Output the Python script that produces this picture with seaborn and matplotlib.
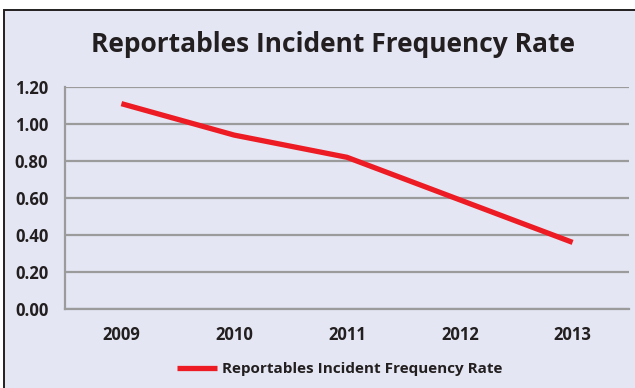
import matplotlib
matplotlib.use("Agg")
import matplotlib.pyplot as plt
from matplotlib.patches import Rectangle
from matplotlib.ticker import FixedLocator
import seaborn as sns
import pandas as pd

years = ["2009", "2010", "2011", "2012", "2013"]
rates = [1.11, 0.94, 0.82, 0.59, 0.36]
y_ticks = [0.0, 0.2, 0.4, 0.6, 0.8, 1.0, 1.2]
series_name = "Reportables Incident Frequency Rate"
title = "Reportables Incident Frequency Rate"

panel_bg = "#E4E7F3"
grid_gray = "#9B9B9B"
line_red = "#ED1C24"
text_dark = "#231F20"

sns.set_theme(style="white")
plt.rcParams["font.family"] = ["Open Sans", "DejaVu Sans"]

W, H, DPI = 635, 388, 100
fig = plt.figure(figsize=(W / DPI, H / DPI), dpi=DPI, facecolor="white")

# framed panel behind the chart
fig.patches.append(Rectangle((3.5 / W, -0.05), 1.1, (H - 9.5) / H + 0.05,
                             transform=fig.transFigure, facecolor=panel_bg,
                             edgecolor=text_dark, linewidth=1.4, zorder=-10))

ax = fig.add_axes([65 / W, 1 - 309 / H, (629 - 65) / W, (309 - 87) / H])
ax.set_facecolor(panel_bg)
ax.patch.set_alpha(0)

df = pd.DataFrame({"pos": range(len(years)), "rate": rates, "series": series_name})
sns.lineplot(data=df, x="pos", y="rate", hue="series", palette=[line_red],
             linewidth=3.8, ax=ax, legend=True, solid_capstyle="butt", zorder=3)

ax.set_xlim(-0.5, len(years) - 0.5)
ax.set_ylim(0, 1.2)
ax.set_yticks(y_ticks)
ax.set_yticklabels([f"{v:.2f}" for v in y_ticks])
ax.set_xticks(range(len(years)))
ax.set_xticklabels(years)
ax.xaxis.set_minor_locator(FixedLocator([i - 0.5 for i in range(len(years) + 1)]))
ax.set_xlabel("")
ax.set_ylabel("")

ax.grid(axis="y", color=grid_gray, linewidth=1.6, zorder=1)
ax.grid(axis="x", visible=False)
for side in ["top", "right"]:
    ax.spines[side].set_visible(False)
for side in ["left", "bottom"]:
    ax.spines[side].set_color(grid_gray)
    ax.spines[side].set_linewidth(1.6)

ax.tick_params(axis="y", which="major", length=5, width=1.6, color=grid_gray,
               pad=7, labelsize=12, labelcolor=text_dark)
ax.tick_params(axis="x", which="major", length=0, pad=12, labelsize=12,
               labelcolor=text_dark)
ax.tick_params(axis="x", which="minor", length=5, width=1.6, color=grid_gray)
for lbl in ax.get_xticklabels() + ax.get_yticklabels():
    lbl.set_fontweight("bold")

fig.text(0.525, 1 - 44 / H, title, ha="center", va="center",
         fontsize=19, fontweight="bold", color=text_dark)

leg = ax.legend(loc="center", bbox_to_anchor=(0.4876, -0.27), frameon=False,
                handlelength=2.6, handletextpad=0.35,
                prop={"weight": "bold", "size": 11})
for t in leg.get_texts():
    t.set_color(text_dark)

fig.savefig("out.png", dpi=DPI, facecolor="white")
